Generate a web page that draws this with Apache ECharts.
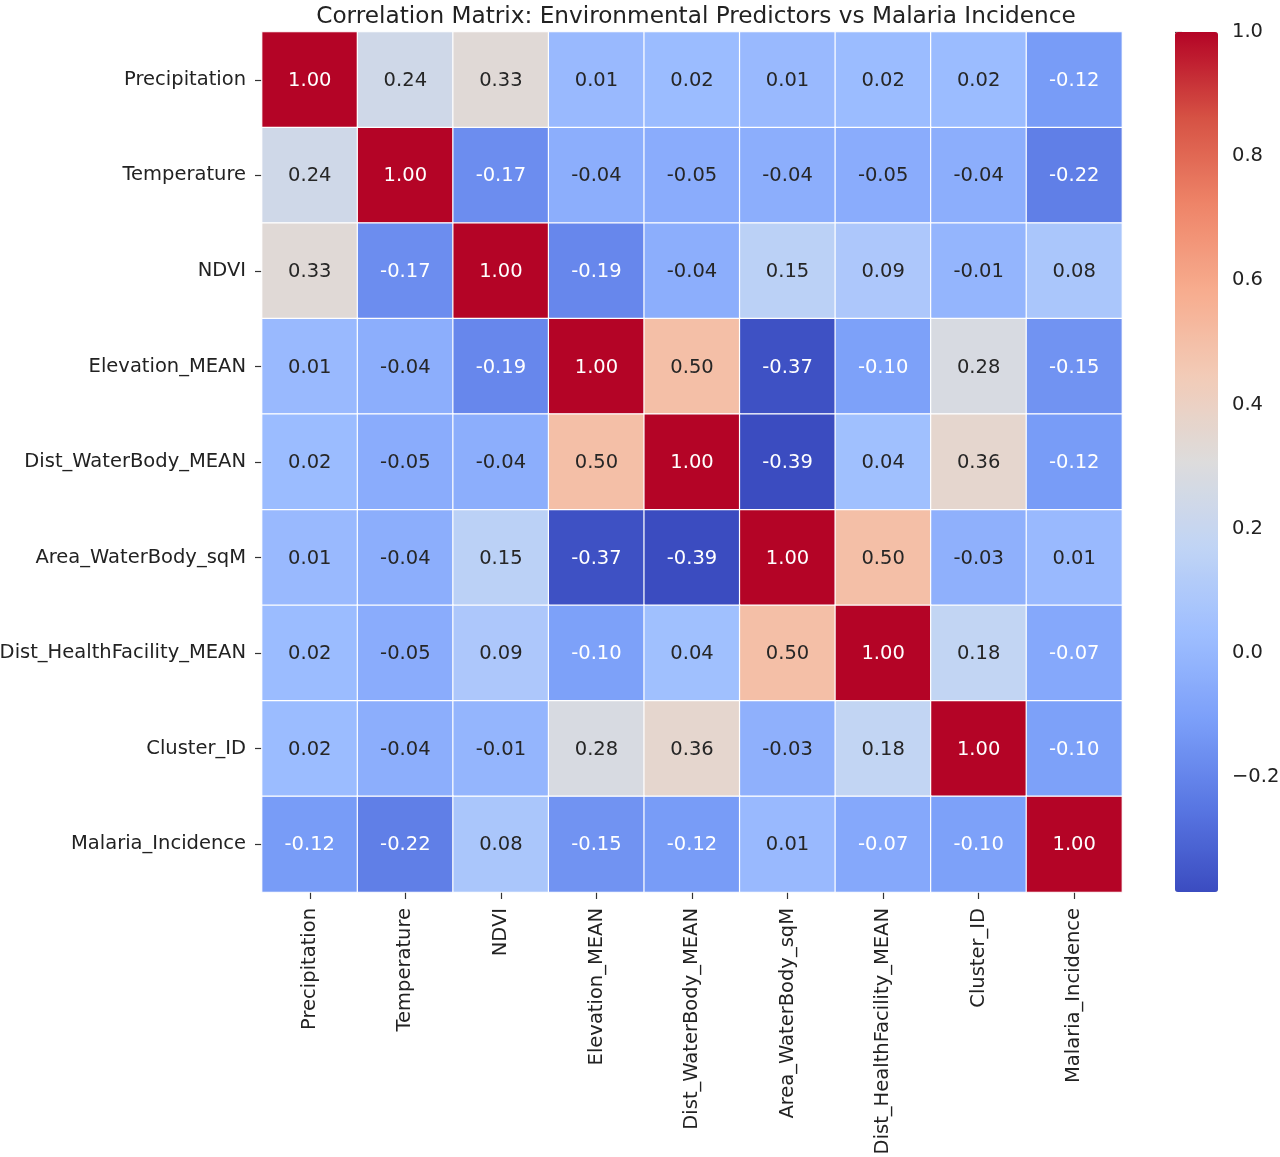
<!DOCTYPE html>
<html>
<head>
<meta charset="utf-8">
<script src="https://cdn.jsdelivr.net/npm/echarts@6/dist/echarts.min.js"></script>
<style>
  html, body { margin: 0; padding: 0; background: #fff; }
  #chart { width: 1280px; height: 1157px; }
</style>
</head>
<body>
<div id="chart"></div>
<script>
// Variables, same order on both axes
const variables = [
    'Precipitation', 'Temperature', 'NDVI', 'Elevation_MEAN', 'Dist_WaterBody_MEAN',
    'Area_WaterBody_sqM', 'Dist_HealthFacility_MEAN', 'Cluster_ID', 'Malaria_Incidence'
];

// Correlation rows (row order = variables)
const precipitation      = [ 1.00,  0.24,  0.33,  0.01,  0.02,  0.01,  0.02,  0.02, -0.12];
const temperature        = [ 0.24,  1.00, -0.17, -0.04, -0.05, -0.04, -0.05, -0.04, -0.22];
const ndvi               = [ 0.33, -0.17,  1.00, -0.19, -0.04,  0.15,  0.09, -0.01,  0.08];
const elevationMean      = [ 0.01, -0.04, -0.19,  1.00,  0.50, -0.37, -0.10,  0.28, -0.15];
const distWaterBodyMean  = [ 0.02, -0.05, -0.04,  0.50,  1.00, -0.39,  0.04,  0.36, -0.12];
const areaWaterBodySqM   = [ 0.01, -0.04,  0.15, -0.37, -0.39,  1.00,  0.50, -0.03,  0.01];
const distHealthFacMean  = [ 0.02, -0.05,  0.09, -0.10,  0.04,  0.50,  1.00,  0.18, -0.07];
const clusterId          = [ 0.02, -0.04, -0.01,  0.28,  0.36, -0.03,  0.18,  1.00, -0.10];
const malariaIncidence   = [-0.12, -0.22,  0.08, -0.15, -0.12,  0.01, -0.07, -0.10,  1.00];

const rows = [precipitation, temperature, ndvi, elevationMean, distWaterBodyMean,
              areaWaterBodySqM, distHealthFacMean, clusterId, malariaIncidence];

// Colour bar ticks
const colorbarTicks = [-0.2, 0.0, 0.2, 0.4, 0.6, 0.8, 1.0];

// scale limits of the colour map (data min/max)
const scaleMin = -0.385;
const scaleMax = 1.0;

// matplotlib coolwarm, 11 samples
const coolwarm = ['#3b4cc0', '#5977e3', '#7b9ff9', '#9ebeff', '#c0d4f5', '#dddcdc',
                  '#f2cbb7', '#f7ac8e', '#ee8468', '#d65244', '#b40426'];

const FONT = 'DejaVu Sans';
const FS = 19.5;

// build heatmap cells
const cells = [];
rows.forEach((row, j) => {
    row.forEach((v, i) => {
        // dark cells get white text
        const dark = v < -0.055 || v > 0.8;
        cells.push({
            value: [i, j, v],
            label: { color: dark ? '#ffffff' : '#262626' }
        });
    });
});

const chart = echarts.init(document.getElementById('chart'));

chart.setOption({
    backgroundColor: '#fff',
    animation: false,
    title: {
        text: 'Correlation Matrix: Environmental Predictors vs Malaria Incidence',
        left: 691,
        top: 0,
        textAlign: 'center',
        textStyle: { fontFamily: FONT, fontSize: 23.2, fontWeight: 'normal', color: '#222' }
    },
    grid: [
        { left: 262, top: 32, width: 860, height: 860, outerBoundsMode: 'none' },
        { left: 1175, top: 32, width: 43, height: 860, outerBoundsMode: 'none' }
    ],
    xAxis: [
        {
            type: 'category',
            gridIndex: 0,
            data: variables,
            axisLine: { show: false },
            axisTick: { show: true, alignWithLabel: true, length: 7, lineStyle: { color: '#333', width: 1.2 } },
            axisLabel: { rotate: 90, margin: 16, fontFamily: FONT, fontSize: FS, color: '#222' },
            splitLine: { show: false }
        },
        {
            type: 'value',
            gridIndex: 1,
            show: false
        }
    ],
    yAxis: [
        {
            type: 'category',
            gridIndex: 0,
            data: variables,
            inverse: true,
            axisLine: { show: false },
            axisTick: { show: true, alignWithLabel: true, length: 7, lineStyle: { color: '#333', width: 1.2 } },
            axisLabel: { margin: 16, fontFamily: FONT, fontSize: FS, color: '#222' },
            splitLine: { show: false }
        },
        {
            type: 'value',
            gridIndex: 1,
            position: 'right',
            min: scaleMin,
            max: scaleMax,
            axisLine: { show: false },
            splitLine: { show: false },
            axisTick: {
                show: true, length: 7, customValues: colorbarTicks,
                lineStyle: { color: '#333', width: 1.2 }
            },
            axisLabel: {
                margin: 14, fontFamily: FONT, fontSize: FS, color: '#222',
                customValues: colorbarTicks,
                formatter: v => v.toFixed(1).replace('-', '\u2212')
            }
        }
    ],
    visualMap: {
        type: 'continuous',
        seriesIndex: 0,
        min: scaleMin,
        max: scaleMax,
        calculable: false,
        orient: 'vertical',
        left: 1175,
        top: 32,
        itemWidth: 43,
        itemHeight: 860,
        padding: 0,
        text: null,
        inRange: { color: coolwarm }
    },
    series: [
        {
            type: 'heatmap',
            xAxisIndex: 0,
            yAxisIndex: 0,
            data: cells,
            itemStyle: { borderColor: '#ffffff', borderWidth: 1.2 },
            label: {
                show: true,
                fontFamily: FONT,
                fontSize: FS,
                offset: [0, 1],
                formatter: p => p.value[2].toFixed(2)
            },
            emphasis: { disabled: true }
        }
    ]
});
</script>
</body>
</html>
